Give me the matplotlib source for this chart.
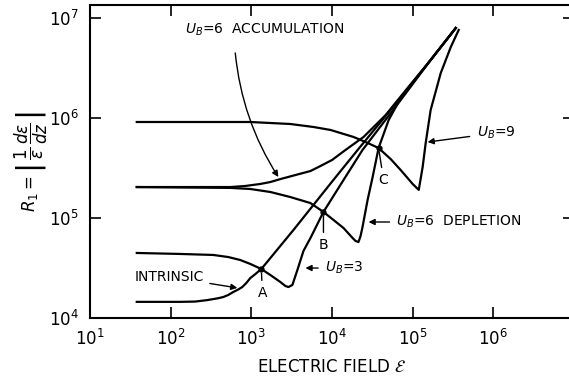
import matplotlib.pyplot as plt

# values (electric field E, R1)
intr_e = [38, 131, 201, 284, 378, 449, 518, 597, 690, 772, 867, 972, 1122, 1330, 3330,
          1.04e4, 2.08e4, 7.1e4, 1.67e5, 3.42e5]
intr_r = [1.45e4, 1.45e4, 1.46e4, 1.51e4, 1.57e4, 1.62e4, 1.70e4, 1.82e4, 1.93e4, 2.04e4,
          2.24e4, 2.51e4, 2.75e4, 3.09e4, 7.59e4, 2.40e5, 4.79e5, 1.60e6, 3.80e6, 7.94e6]

ub3_e = [38, 131, 337, 518, 730, 972, 1330, 1722, 2291, 2642, 2884, 3228, 3724, 4426, 5408,
         7834, 1.39e4, 2.39e4, 4.12e4, 7.1e4, 1.67e5, 3.42e5]
ub3_r = [4.47e4, 4.37e4, 4.27e4, 4.07e4, 3.80e4, 3.47e4, 3.09e4, 2.69e4, 2.29e4, 2.09e4,
         2.04e4, 2.14e4, 3.02e4, 4.68e4, 6.31e4, 1.15e5, 2.40e5, 4.79e5, 8.51e5, 1.51e6,
         3.80e6, 7.94e6]

dep6_e = [38, 548, 972, 1722, 3048, 5408, 7834, 1.39e4, 1.80e4, 1.96e4, 2.13e4, 2.26e4,
          2.39e4, 2.76e4, 3.19e4, 3.78e4, 5.04e4, 7.1e4, 1.67e5, 3.42e5]
dep6_r = [2.04e5, 2.00e5, 1.95e5, 1.82e5, 1.62e5, 1.41e5, 1.15e5, 7.94e4, 6.31e4, 5.89e4,
          5.75e4, 6.61e4, 8.13e4, 1.51e5, 2.57e5, 5.01e5, 9.55e5, 1.58e6, 3.80e6, 7.94e6]

acc6_e = [38, 548, 841, 1294, 1722, 2291, 3524, 5408, 7194, 1.0e4, 1.47e4, 2.46e4, 4.62e4,
          8.67e4, 1.67e5, 3.42e5]
acc6_r = [2.04e5, 2.04e5, 2.09e5, 2.19e5, 2.29e5, 2.45e5, 2.69e5, 2.95e5, 3.31e5, 3.80e5,
          4.79e5, 6.46e5, 1.07e6, 2.0e6, 3.80e6, 7.94e6]

ub9_e = [38, 972, 3048, 5888, 9.6e3, 1.85e4, 2.61e4, 3.78e4, 5.33e4, 7.1e4, 1.0e5, 1.19e5,
         1.33e5, 1.45e5, 1.67e5, 2.23e5, 2.97e5, 3.72e5]
ub9_r = [9.12e5, 9.12e5, 8.71e5, 8.13e5, 7.59e5, 6.46e5, 5.75e5, 5.01e5, 3.89e5, 3.02e5,
         2.19e5, 1.91e5, 3.24e5, 5.62e5, 1.20e6, 2.82e6, 5.13e6, 7.59e6]

# crossing points A, B, C
pts_name = ["A", "B", "C"]
pts_e = [1330, 7834, 3.78e4]
pts_r = [3.09e4, 1.15e5, 5.01e5]
pts_text_e = [1371, 7834, 4.36e4]
pts_text_r = [1.78e4, 5.37e4, 2.4e5]

fig = plt.figure(figsize=(5.69, 3.77), dpi=100)
ax = fig.add_axes([90 / 569, 59 / 377, 484 / 569, 313 / 377])

for e, r in [(intr_e, intr_r), (ub3_e, ub3_r), (dep6_e, dep6_r), (acc6_e, acc6_r), (ub9_e, ub9_r)]:
    ax.plot(e, r, color="black", lw=1.6, solid_joinstyle="round")

ax.plot(pts_e, pts_r, "o", color="black", ms=3.5)

ax.set_xscale("log")
ax.set_yscale("log")
ax.set_xlim(10, 1e7)
ax.set_ylim(1e4, 10 ** 7.13)
ax.set_xticks([1e1, 1e2, 1e3, 1e4, 1e5, 1e6])
ax.set_yticks([1e4, 1e5, 1e6, 1e7])
ax.minorticks_off()
ax.tick_params(direction="in", top=True, right=True, length=8, width=1.2,
               labelsize=12, pad=8)
for s in ax.spines.values():
    s.set_linewidth(1.5)

ax.set_xlabel(r"ELECTRIC FIELD $\mathcal{E}$", fontsize=12, labelpad=6)
ax.set_ylabel(r"$R_1 = \left|\,\dfrac{1}{\varepsilon}\,\dfrac{d\varepsilon}{dz}\,\right|$",
              fontsize=12, labelpad=-1)

# curve labels
arrow = dict(arrowstyle="-|>", color="black", lw=1.0, mutation_scale=9, shrinkA=0, shrinkB=0)
ax.annotate(r"$U_B$=6  ACCUMULATION", xy=(2163, 2.57e5), xytext=(151, 7.59e6),
            fontsize=10, va="center", ha="left")
ax.annotate("", xy=(2163, 2.57e5), xytext=(632, 4.47e6),
            arrowprops=dict(arrow, connectionstyle="arc3,rad=0.12"))
ax.annotate(r"$U_B$=9", xy=(1.53e5, 5.75e5), xytext=(6.2e5, 7.08e5), fontsize=10,
            va="center", ha="left", arrowprops=dict(arrow, shrinkA=3))
ax.annotate(r"$U_B$=6  DEPLETION", xy=(2.84e4, 9.12e4), xytext=(6.3e4, 9.12e4), fontsize=10,
            va="center", ha="left", arrowprops=dict(arrow, shrinkA=3))
ax.annotate(r"$U_B$=3", xy=(4688, 3.16e4), xytext=(8200, 3.16e4), fontsize=10,
            va="center", ha="left", arrowprops=dict(arrow, shrinkA=3))
ax.annotate("INTRINSIC", xy=(670, 2.0e4), xytext=(36, 2.57e4), fontsize=10,
            va="center", ha="left", arrowprops=dict(arrow, shrinkA=2))

# point markers with leader lines
lead = dict(arrowstyle="-", color="black", lw=1.0, shrinkA=2, shrinkB=3)
for name, e, r, te, tr in zip(pts_name, pts_e, pts_r, pts_text_e, pts_text_r):
    ax.annotate(name, xy=(e, r), xytext=(te, tr), fontsize=10,
                ha="center", va="center", arrowprops=lead)

fig.savefig("out.png", dpi=100)
